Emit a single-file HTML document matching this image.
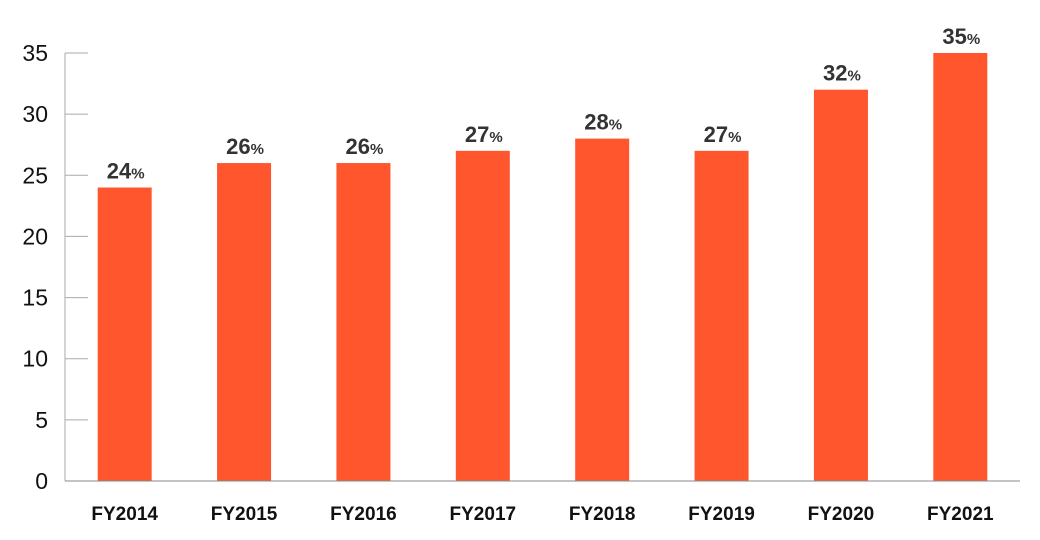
<!DOCTYPE html>
<html><head><meta charset="utf-8"><style>
body{margin:0;background:#fff;}
svg{display:block;font-family:"Liberation Sans",sans-serif;}
</style></head><body>
<svg id="c" width="1040" height="540"></svg>
<script>
const categories=["FY2014","FY2015","FY2016","FY2017","FY2018","FY2019","FY2020","FY2021"];
const values=[24,26,26,27,28,27,32,35];
const yTicks=[0,5,10,15,20,25,30,35];
const L=65,R=1020,T=53,B=481,yMax=35;
const band=(R-L)/categories.length,bw=54;
const y=v=>B-(v/yMax)*(B-T);
const x=i=>L+(i+0.5)*band;
const svg=document.getElementById('c');const NS="http://www.w3.org/2000/svg";
function mk(t,a,p){const e=document.createElementNS(NS,t);for(const k in a)e.setAttribute(k,a[k]);(p||svg).appendChild(e);return e;}
const ax=mk('line',{x1:L,y1:T,x2:L,y2:B,stroke:'#aaa','stroke-width':1});


yTicks.forEach(t=>{
 const ln=mk('line',{x1:L,y1:y(t),x2:L+23,y2:y(t),stroke:'#aaa','stroke-width':1});
 
 
 const tx=mk('text',{x:48,y:y(t)+8,'text-anchor':'end','font-size':23,fill:'#111'});
 tx.textContent=t;
 
 
});
categories.forEach((c,i)=>{
 const r=mk('rect',{x:x(i)-bw/2,y:y(values[i]),width:bw,height:B-y(values[i]),fill:'#ff562d'});
 
 
 const lb=mk('text',{x:x(i)+1,y:y(values[i])-9,'text-anchor':'middle','font-size':22,'font-weight':'bold',fill:'#333'});
 lb.innerHTML=values[i]+'<tspan font-size="15">%</tspan>';
 
 
 const cl=mk('text',{x:x(i),y:520,'text-anchor':'middle','font-size':19,'font-weight':'bold',fill:'#111'});
 cl.textContent=c;
 
 
});
const base=mk('line',{x1:L,y1:B,x2:R,y2:B,stroke:'#888','stroke-width':1});


</script>
</body></html>
